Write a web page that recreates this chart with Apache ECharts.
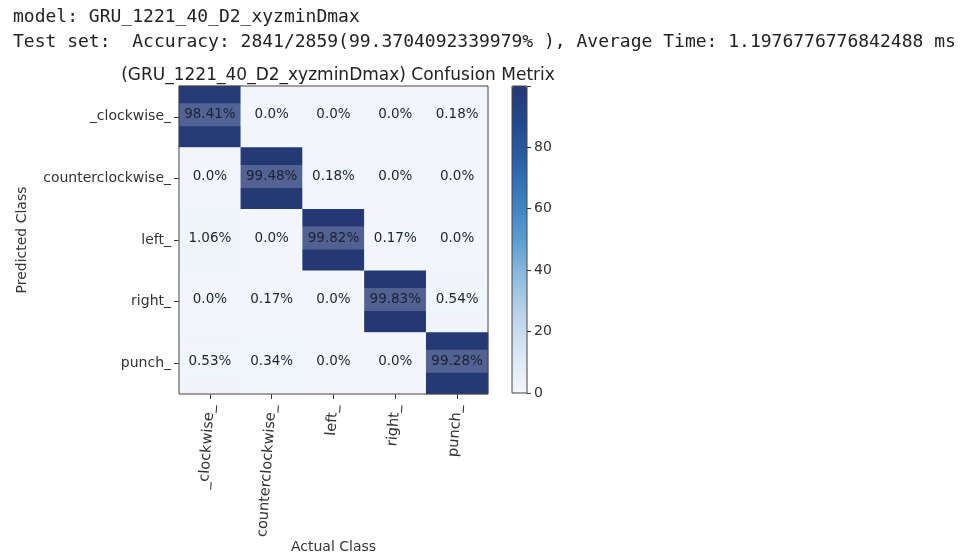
<!DOCTYPE html>
<html>
<head>
<meta charset="utf-8">
<script src="https://cdn.jsdelivr.net/npm/echarts@6/dist/echarts.min.js"></script>
<style>
  html, body { margin: 0; padding: 0; background: #ffffff; }
  #chart { width: 969px; height: 559px; }
</style>
</head>
<body>
<div id="chart"></div>
<script>
// Class names (predicted rows, actual columns)
const classes = ['_clockwise_', 'counterclockwise_', 'left_', 'right_', 'punch_'];

// Confusion matrix in percent, one array per predicted class
const rowClockwise        = [98.41, 0.0, 0.0, 0.0, 0.18];
const rowCounterclockwise = [0.0, 99.48, 0.18, 0.0, 0.0];
const rowLeft             = [1.06, 0.0, 99.82, 0.17, 0.0];
const rowRight            = [0.0, 0.17, 0.0, 99.83, 0.54];
const rowPunch            = [0.53, 0.34, 0.0, 0.0, 99.28];
const matrixRows = [rowClockwise, rowCounterclockwise, rowLeft, rowRight, rowPunch];

// Colour bar ticks
const colorbarTicks = [0, 20, 40, 60, 80];
const colorMax = 99.83;

const headerLine1 = 'model: GRU_1221_40_D2_xyzminDmax';
const headerLine2 = 'Test set:  Accuracy: 2841/2859(99.3704092339979% ), Average Time: 1.1976776776842488 ms';
const chartTitle = '(GRU_1221_40_D2_xyzminDmax) Confusion Metrix';

// heatmap triples: [actualIndex, predictedIndex, value]
const cells = [];
matrixRows.forEach((row, r) => row.forEach((v, c) => cells.push([c, r, v])));

function pct(v) {
  return (Number.isInteger(v) ? v.toFixed(1) : String(v)) + '%';
}

const sans = 'DejaVu Sans';
const mono = 'DejaVu Sans Mono';

const chart = echarts.init(document.getElementById('chart'), null, { renderer: 'canvas' });
chart.setOption({
  backgroundColor: '#ffffff',
  animation: false,
  title: [
    { text: headerLine1, left: 8, top: 3, textStyle: { fontFamily: mono, fontSize: 18, fontWeight: 'normal', color: '#222' } },
    { text: headerLine2, left: 8, top: 28, textStyle: { fontFamily: mono, fontSize: 18, fontWeight: 'normal', color: '#222' } },
    { text: chartTitle, left: 333, top: 62, textAlign: 'center', textStyle: { fontFamily: sans, fontSize: 17, fontWeight: 'normal', color: '#222' } }
  ],
  grid: [
    { left: 179, top: 86, width: 309, height: 308, outerBoundsMode: 'none', containLabel: false, show: true, borderColor: '#444', borderWidth: 1, backgroundColor: 'transparent', z: 5 },
    { left: 512, top: 86, width: 15, height: 307, outerBoundsMode: 'none', containLabel: false, show: true, borderColor: '#444', borderWidth: 1, backgroundColor: 'transparent', z: 5 }
  ],
  xAxis: [
    {
      type: 'category', gridIndex: 0, data: classes, position: 'bottom',
      name: 'Actual Class', nameLocation: 'middle', nameGap: 146, nameMoveOverlap: false,
      nameTextStyle: { fontFamily: sans, fontSize: 14, color: '#333' },
      axisLine: { show: false },
      axisTick: { show: true, alignWithLabel: true, length: 5, lineStyle: { color: '#333' } },
      axisLabel: { rotate: 86, fontFamily: sans, fontSize: 14.5, color: '#333', margin: 11 },
      splitLine: { show: false }
    },
    {
      type: 'category', gridIndex: 1, data: [''],
      axisLine: { show: false }, axisTick: { show: false }, axisLabel: { show: false }, splitLine: { show: false }
    }
  ],
  yAxis: [
    {
      type: 'category', gridIndex: 0, data: classes, inverse: true,
      name: 'Predicted Class', nameLocation: 'middle', nameGap: 150, nameRotate: 90,
      nameTextStyle: { fontFamily: sans, fontSize: 14, color: '#333' },
      axisLine: { show: false },
      axisTick: { show: true, alignWithLabel: true, length: 5, lineStyle: { color: '#333' } },
      axisLabel: { fontFamily: sans, fontSize: 14, color: '#333', margin: 8 },
      splitLine: { show: false }
    },
    {
      type: 'value', gridIndex: 1, position: 'right', min: 0, max: colorMax, interval: 20,
      axisLine: { show: false },
      axisTick: { show: true, length: 4, lineStyle: { color: '#333' } },
      axisLabel: {
        fontFamily: sans, fontSize: 14, color: '#333', margin: 7,
        formatter: v => colorbarTicks.includes(v) ? String(v) : ''
      },
      splitLine: { show: false }
    }
  ],
  visualMap: {
    type: 'continuous', seriesIndex: 0, min: 0, max: colorMax,
    left: 512, top: 86, itemWidth: 15, itemHeight: 307, padding: 0,
    calculable: false, realtime: false, hoverLink: false,
    inRange: { color: ['#f2f6fb', '#dae7f4', '#bdd5ec', '#8fbde0', '#5b9dd0', '#3d7fc0', '#2a62a8', '#244a8e', '#253874'] }
  },
  series: [{
    type: 'heatmap', xAxisIndex: 0, yAxisIndex: 0, data: cells,
    itemStyle: { borderWidth: 0 },
    label: {
      show: true, fontFamily: sans, fontSize: 13.5, color: '#1c2233',
      formatter: p => pct(p.value[2]),
      width: 62, align: 'center', lineHeight: 16,
      padding: [4, 0, 3, 0], offset: [0, -2],
      backgroundColor: 'rgba(240,246,255,0.22)'
    },
    emphasis: { disabled: true }
  }]
});
</script>
</body>
</html>
